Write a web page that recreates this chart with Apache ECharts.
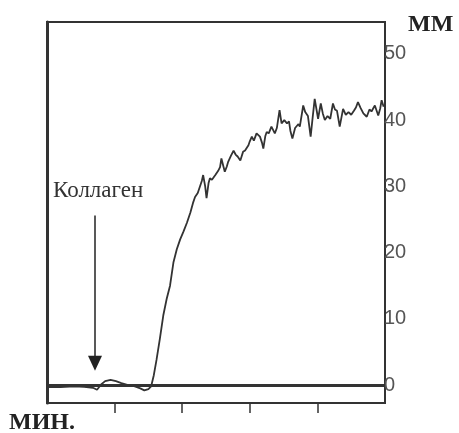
<!DOCTYPE html>
<html>
<head>
<meta charset="utf-8">
<script src="https://cdn.jsdelivr.net/npm/echarts@6/dist/echarts.min.js"></script>
<style>html,body{margin:0;padding:0;background:#fff;}#c{width:459px;height:433px;}</style>
</head>
<body>
<div id="c"></div>
<script>
var times = [0.00,0.20,0.40,0.55,0.68,0.74,0.80,0.86,0.94,1.02,1.10,1.20,1.30,1.38,1.44,1.50,1.54,1.58,1.62,1.67,1.72,1.77,1.82,1.87,1.92,1.97,2.02,2.07,2.12,2.16,2.19,2.23,2.26,2.29,2.31,2.34,2.36,2.39,2.41,2.44,2.49,2.53,2.56,2.58,2.61,2.63,2.66,2.68,2.72,2.76,2.79,2.82,2.86,2.90,2.93,2.98,3.00,3.03,3.06,3.10,3.12,3.15,3.18,3.20,3.23,3.25,3.28,3.32,3.37,3.40,3.44,3.47,3.51,3.55,3.58,3.60,3.63,3.67,3.69,3.72,3.74,3.79,3.82,3.86,3.90,3.93,3.96,4.01,4.05,4.08,4.11,4.15,4.19,4.23,4.26,4.29,4.33,4.38,4.42,4.46,4.50,4.54,4.57,4.60,4.64,4.68,4.73,4.77,4.80,4.85,4.90,4.93,4.95,4.98];
var values = [-0.3,-0.3,-0.2,-0.25,-0.4,-0.7,0.1,0.6,0.8,0.6,0.3,0.0,-0.2,-0.5,-0.8,-0.6,-0.2,1.5,3.8,7.0,10.5,13.0,15.0,18.5,20.5,22.0,23.2,24.5,26.0,27.5,28.4,29.0,29.9,30.8,31.7,30.0,28.2,30.5,31.2,31.0,31.7,32.3,32.9,34.2,33.0,32.2,33.0,33.7,34.6,35.4,34.8,34.5,33.9,35.2,35.4,36.2,36.8,37.5,36.9,38.0,37.8,37.5,36.6,35.7,37.6,38.2,38.0,39.0,38.0,38.8,41.5,39.5,40.0,39.5,39.8,38.4,37.2,38.8,39.0,39.4,39.0,42.2,41.2,40.6,37.5,40.4,43.2,40.2,42.5,41.0,40.0,40.6,40.2,42.5,41.6,41.4,39.0,41.7,40.8,41.2,40.8,41.4,41.9,42.7,41.8,41.0,40.5,41.6,41.3,42.2,40.7,41.8,43.0,42.0];
var yTickLabels = [0,10,20,30,40,50];
var xTicks = [1,2,3,4];
var baselineValue = 0;
var arrowX = 0.71, arrowTop = 25.6, arrowBottom = 3.3;
var yUnit = 'ММ', xUnit = 'МИН.', markerText = 'Коллаген';

var data = times.map(function(t,i){return [t, values[i]];});
var chart = echarts.init(document.getElementById('c'));
chart.setOption({
  animation:false,
  grid:{left:47,right:74,top:22,bottom:30,show:true,borderColor:'#333',borderWidth:2},
  xAxis:{type:'value',min:0,max:5,interval:1,
    axisLine:{show:true,onZero:false,lineStyle:{color:'#333',width:2}},
    axisTick:{show:true,inside:false,length:10,customValues:xTicks,lineStyle:{color:'#333',width:1.5}},
    axisLabel:{show:false},splitLine:{show:false}},
  yAxis:{type:'value',position:'right',min:-2.7,max:54.8,
    axisLine:{show:true,lineStyle:{color:'#333',width:3}},
    axisTick:{show:false},
    axisLabel:{show:true,customValues:yTickLabels,margin:-1,fontSize:20,color:'#555',fontFamily:'Liberation Sans'},
    splitLine:{show:false}},
  series:[{type:'line',data:data,showSymbol:false,symbol:'none',
    lineStyle:{color:'#333',width:1.8},
    markLine:{silent:true,animation:false,
      data:[
        [{coord:[0,baselineValue],symbol:'none',lineStyle:{width:3,color:'#333',type:'solid'}},{coord:[5,baselineValue],symbol:'none'}],
        [{coord:[arrowX,arrowTop],symbol:'none',lineStyle:{width:1.5,color:'#222',type:'solid'}},{coord:[arrowX,arrowBottom],symbol:'triangle',symbolSize:[14,15]}]
      ],
      label:{show:false},
      lineStyle:{color:'#222',type:'solid'}
    }
  }],
  graphic:[
    {type:'text',left:408,top:13,style:{text:yUnit,font:'bold 24px "Liberation Serif"',fill:'#222'}},
    {type:'text',left:9,top:411,style:{text:xUnit,font:'bold 24px "Liberation Serif"',fill:'#222'}},
    {type:'text',left:53,top:179,style:{text:markerText,font:'23px "Liberation Serif"',fill:'#333'}}
  ]
});
</script>
</body>
</html>
